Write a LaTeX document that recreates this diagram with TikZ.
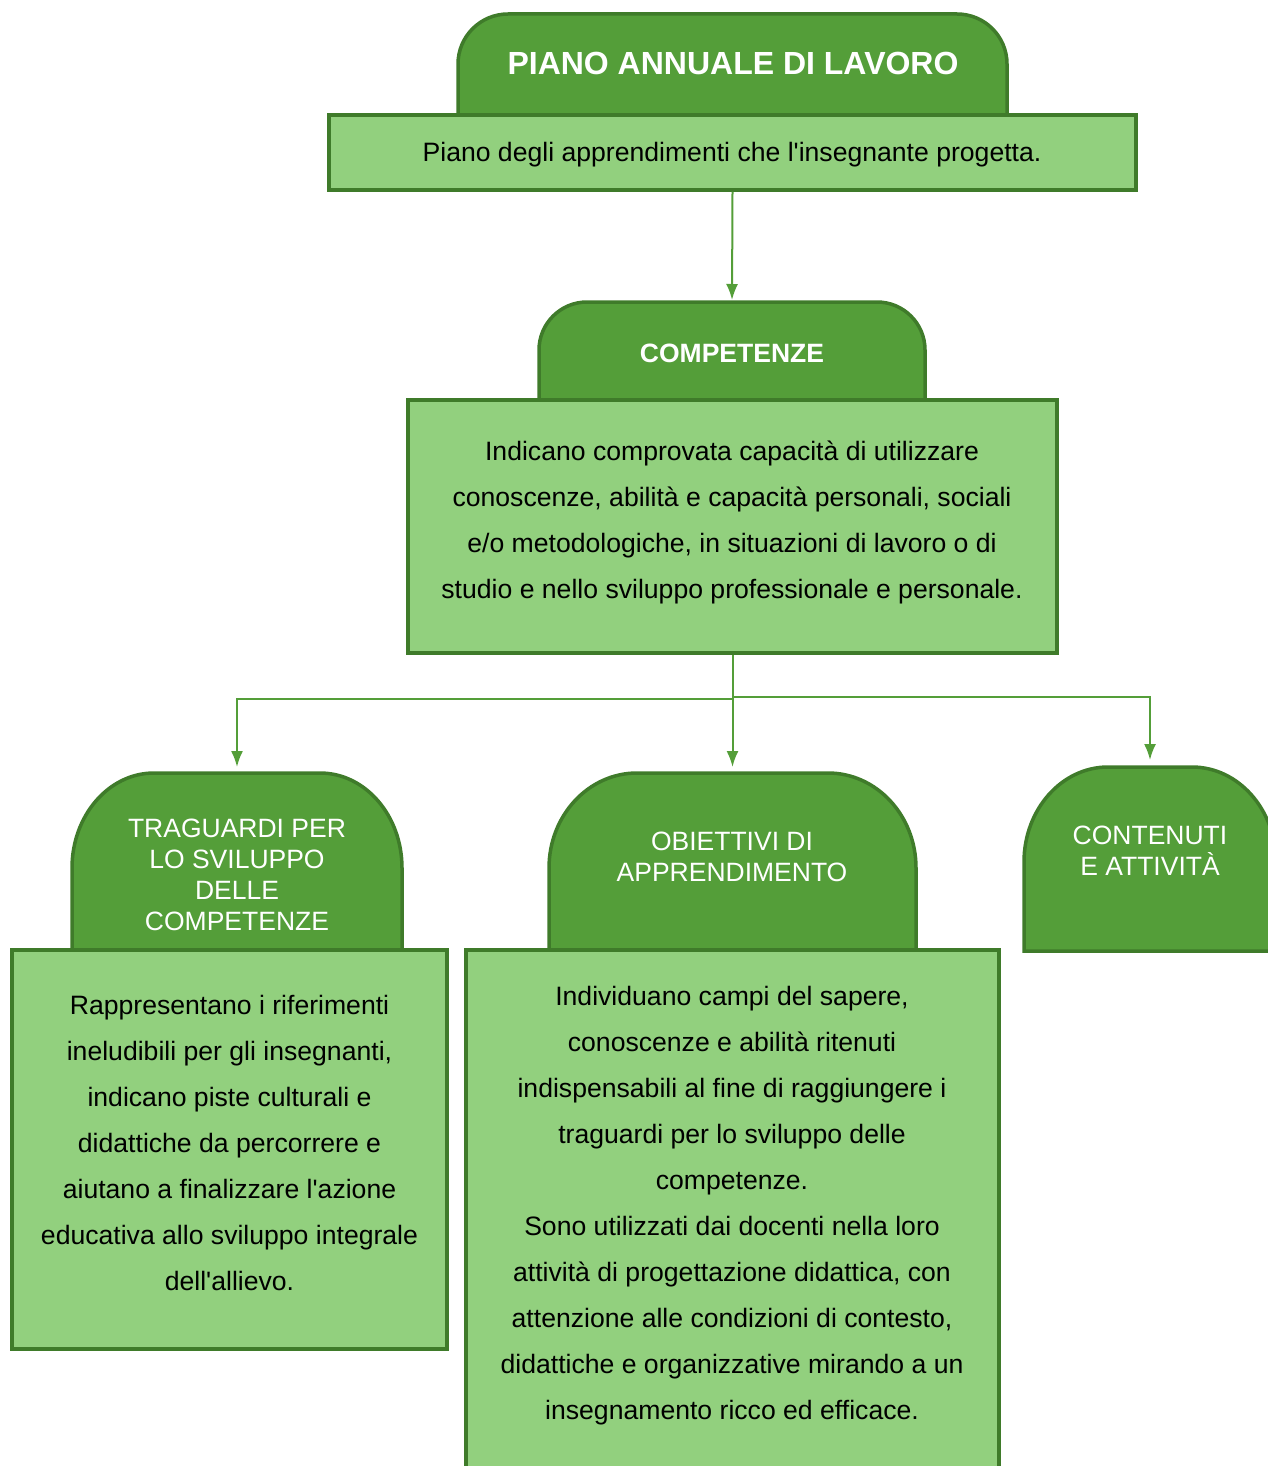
\documentclass[tikz,border=0pt]{standalone}
\usepackage{fontspec}
\setmainfont{Liberation Sans}[Ligatures=TeXOff]
\usetikzlibrary{arrows.meta}
\definecolor{dk}{HTML}{549E39}
\definecolor{bd}{HTML}{3F7B2A}
\definecolor{lt}{HTML}{92D07E}
\begin{document}
\begin{tikzpicture}[x=1pt,y=-1pt,
  tabshape/.style={draw=bd,fill=dk,line width=3.5pt},
  boxshape/.style={draw=bd,fill=lt,line width=3.5pt,inner sep=0pt},
  area/.style={inner sep=0pt,outer sep=0pt,draw=none},
  body/.style={align=center,font=\fontsize{26.6}{46}\selectfont,text=black,inner sep=0pt},
  head/.style={align=center,font=\fontsize{26.5}{31}\selectfont,text=white,inner sep=0pt},
  headb/.style={align=center,font=\bfseries\fontsize{#1}{#1}\selectfont,text=white,inner sep=0pt},
  conn/.style={draw=dk,line width=2pt,-{Latex[length=16pt,width=12pt]}}
]
\useasboundingbox (0,0) rectangle (1268,1466);
\clip (0,0) rectangle (1268,1466);

% ---- tab areas (named)
\node[area,minimum width=549pt,minimum height=101pt] (toptab) at (732.5,64.5) {};
\node[area,minimum width=386pt,minimum height=98pt] (comptab) at (732,351) {};
\node[area,minimum width=330pt,minimum height=177pt] (tragtab) at (237,861.5) {};
\node[area,minimum width=367pt,minimum height=177pt] (obtab) at (732.5,861.5) {};
\node[area,minimum width=252pt,minimum height=184pt] (conttab) at (1150,859) {};

% ---- tab shapes
\path[tabshape] (458,115) -- (458,64) arc[start angle=180,end angle=270,radius=50] -- (957,14) arc[start angle=270,end angle=360,radius=50] -- (1007,115) -- cycle;
\path[tabshape] (539,400) -- (539,350) arc[start angle=180,end angle=270,radius=48] -- (877,302) arc[start angle=270,end angle=360,radius=48] -- (925,400) -- cycle;
\path[tabshape] (72,950) -- (72,868) arc[start angle=180,end angle=270,x radius=82,y radius=95] -- (320,773) arc[start angle=270,end angle=360,x radius=82,y radius=95] -- (402,950) -- cycle;
\path[tabshape] (549,950) -- (549,868) arc[start angle=180,end angle=270,x radius=88,y radius=95] -- (828,773) arc[start angle=270,end angle=360,x radius=88,y radius=95] -- (916,950) -- cycle;
\path[tabshape] (1024,951) -- (1024,862) arc[start angle=180,end angle=270,x radius=84,y radius=95] -- (1192,767) arc[start angle=270,end angle=360,x radius=84,y radius=95] -- (1276,951) -- cycle;

% ---- boxes
\node[boxshape,minimum width=807pt,minimum height=75pt] (topbox) at (732.5,152.5) {};
\node[boxshape,minimum width=649pt,minimum height=253pt] (compbox) at (732.5,526.5) {};
\node[boxshape,minimum width=435pt,minimum height=399pt] (tragbox) at (229.5,1149.5) {};
\node[boxshape,minimum width=533pt,minimum height=540pt] (obbox) at (732.5,1220) {};

% ---- texts
\node[headb=32] (toptxt) at (733,63) {PIANO ANNUALE DI LAVORO};
\node[headb=26.5] (comptxt) at (732,353) {COMPETENZE};
\node[head] (tragtxt) at (237,875) {TRAGUARDI PER\\LO SVILUPPO\\DELLE\\COMPETENZE};
\node[head] (obtxt) at (732,856.5) {OBIETTIVI DI\\APPRENDIMENTO};
\node[head] (conttxt) at (1150,850.5) {CONTENUTI\\E ATTIVITÀ};

\node[body] (topboxtxt) at (732,155) {Piano degli apprendimenti che l'insegnante progetta.};
\node[body] (compboxtxt) at (732,522) {Indicano comprovata capacità di utilizzare\\conoscenze, abilità e capacità personali, sociali\\e/o metodologiche, in situazioni di lavoro o di\\studio e nello sviluppo professionale e personale.};
\node[body] (tragboxtxt) at (229.5,1143) {Rappresentano i riferimenti\\ineludibili per gli insegnanti,\\indicano piste culturali e\\didattiche da percorrere e\\aiutano a finalizzare l'azione\\educativa allo sviluppo integrale\\dell'allievo.};
\node[body] (obboxtxt) at (732,1206) {Individuano campi del sapere,\\conoscenze e abilità ritenuti\\indispensabili al fine di raggiungere i\\traguardi per lo sviluppo delle\\competenze.\\Sono utilizzati dai docenti nella loro\\attività di progettazione didattica, con\\attenzione alle condizioni di contesto,\\didattiche e organizzative mirando a un\\insegnamento ricco ed efficace.};

% ---- connectors
\draw[conn,shorten >=2pt] (topbox.south) -- (comptab.north);
\draw[conn,shorten >=6pt] (compbox.south) -- (obtab.north);
\draw[conn,shorten >=6pt] (compbox.south) -- ++(0,44) -| (tragtab.north);
\draw[conn,shorten >=7pt] (compbox.south) -- ++(0,42) -| (conttab.north);
\end{tikzpicture}
\end{document}
